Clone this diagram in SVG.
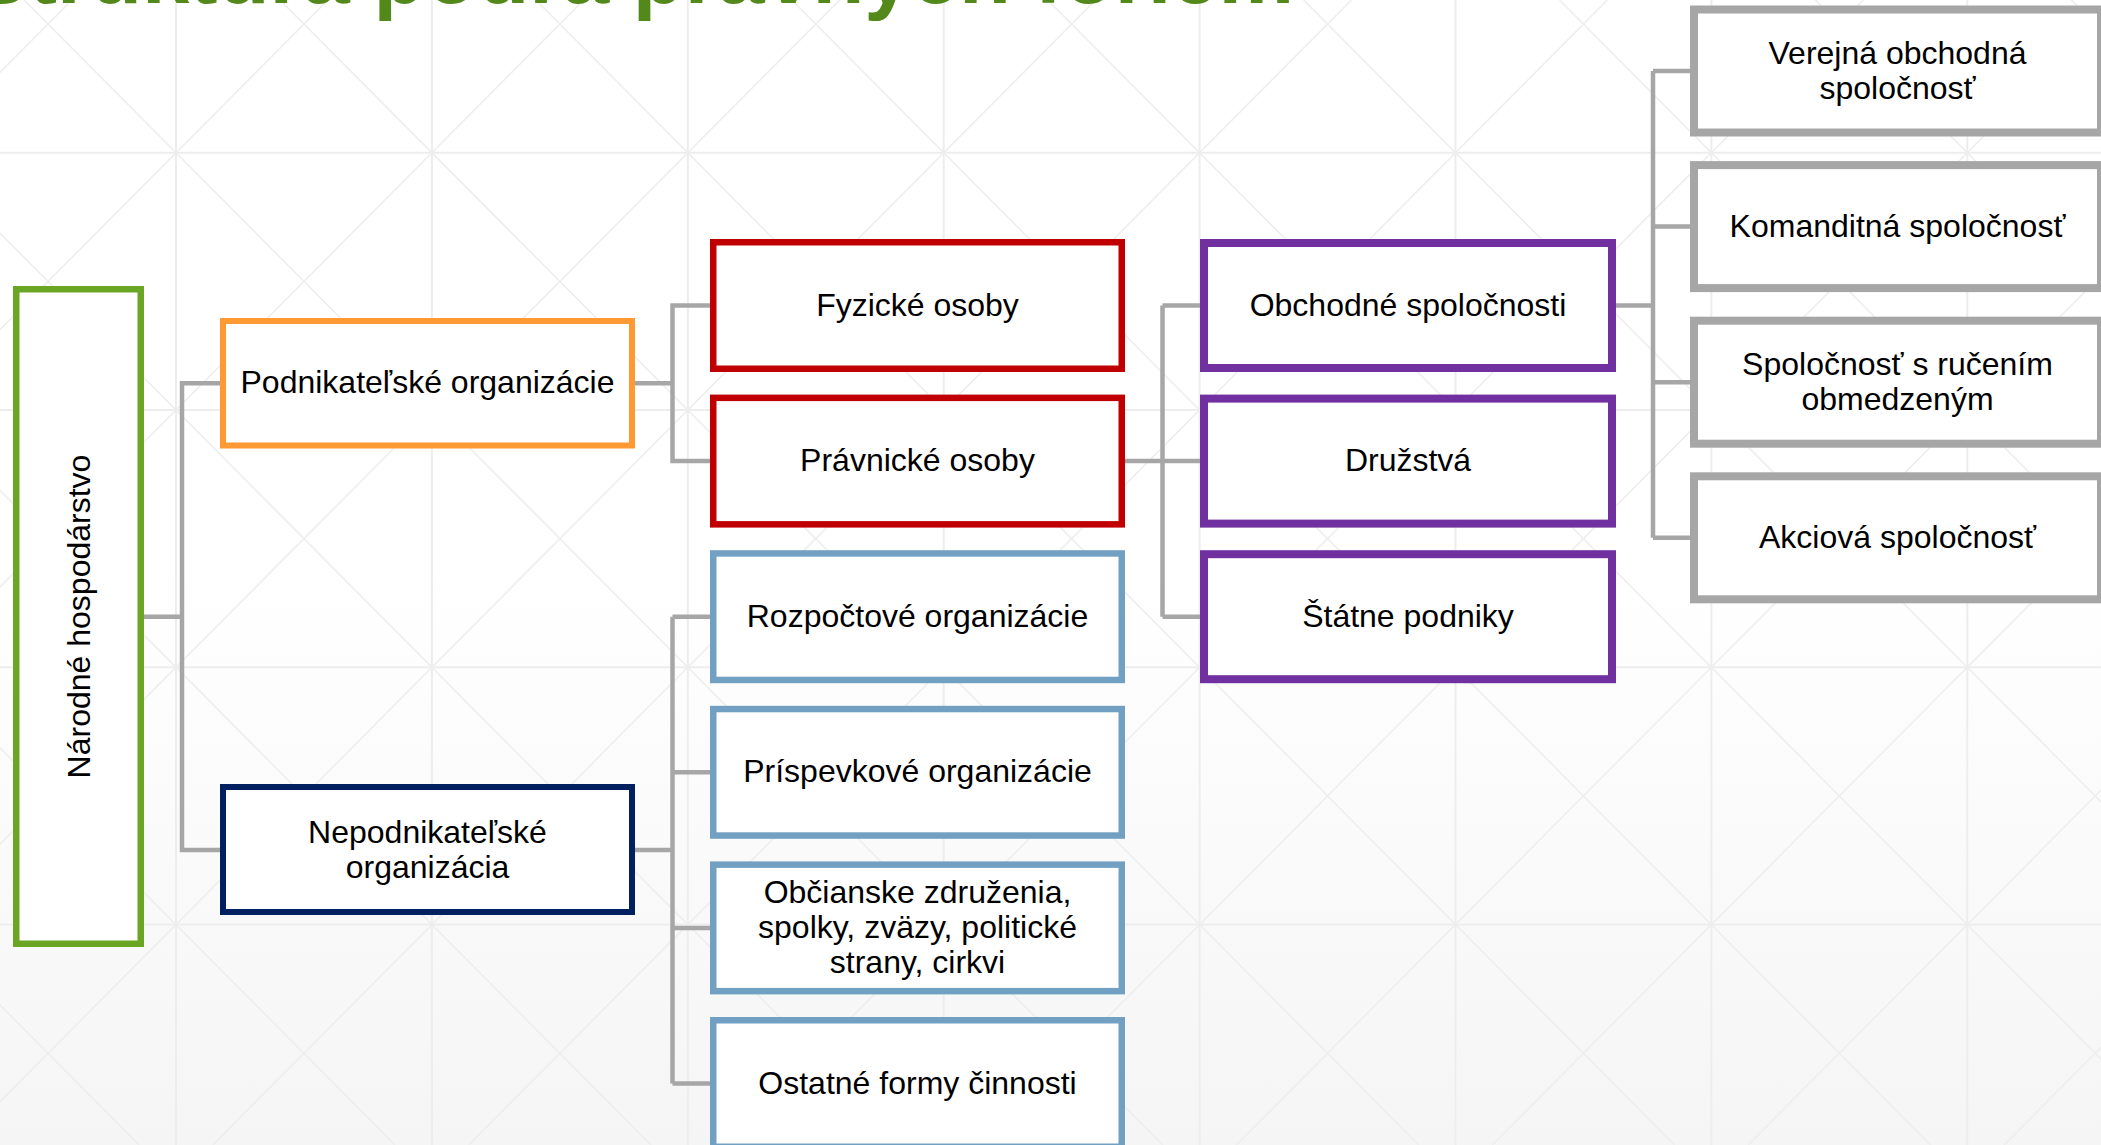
<svg xmlns="http://www.w3.org/2000/svg" width="2101" height="1145" viewBox="0 0 2101 1145">
<style>
  .lbl { font-family: "Liberation Sans", Arial, sans-serif; font-size: 32px; fill: #000000; text-anchor: middle; }
  .box { fill: #FFFFFF; }
  .g1 { stroke: #6AA523; stroke-width: 6.5; }
  .org { stroke: #FF9933; stroke-width: 6; }
  .navy { stroke: #002060; stroke-width: 6; }
  .red { stroke: #C00000; stroke-width: 6.5; }
  .blue { stroke: #72A0C3; stroke-width: 6.5; }
  .purp { stroke: #7030A0; stroke-width: 8; }
  .gray { stroke: #A6A6A6; stroke-width: 8; }
  .conn { fill: none; stroke: #A6A6A6; stroke-width: 4.5; stroke-linejoin: miter; }
  .gl { stroke: #EDEDED; stroke-width: 2; fill: none; }
  .gd { stroke: #EEEEEE; stroke-width: 1.6; fill: none; }
  .title { font-family: "Liberation Sans", Arial, sans-serif; font-weight: bold; font-size: 85px; fill: #53881A; }
</style>
<defs>
  <linearGradient id="bg" x1="0" y1="0" x2="0" y2="1">
    <stop offset="0" stop-color="#FFFFFF"/>
    <stop offset="0.5" stop-color="#FFFFFF"/>
    <stop offset="1" stop-color="#F5F5F5"/>
  </linearGradient>
</defs>
<g id="background">
  <rect x="0" y="0" width="2101" height="1145" fill="url(#bg)"/>
  <path class="gl" d="M176,0V1145 M431.9,0V1145 M687.8,0V1145 M943.7,0V1145 M1199.6,0V1145 M1455.5,0V1145 M1711.4,0V1145 M1967.3,0V1145 M0,152.7H2101 M0,410H2101 M0,667.3H2101 M0,924.6H2101"/>
  <path class="gd" d="M-999.5,0L139.3,1145 M-743.6,0L395.2,1145 M-487.7,0L651.1,1145 M-231.8,0L907,1145 M24.1,0L1162.9,1145 M280,0L1418.8,1145 M535.9,0L1674.7,1145 M791.8,0L1930.6,1145 M1047.7,0L2186.5,1145 M1303.6,0L2442.4,1145 M1559.5,0L2698.3,1145 M1815.4,0L2954.2,1145 M2071.3,0L3210.1,1145"/>
  <path class="gd" d="M72,0L-1066.8,1145 M327.9,0L-810.9,1145 M583.8,0L-555,1145 M839.7,0L-299.1,1145 M1095.6,0L-43.2,1145 M1351.5,0L212.7,1145 M1607.4,0L468.6,1145 M1863.3,0L724.5,1145 M2119.2,0L980.4,1145 M2375.1,0L1236.3,1145 M2631,0L1492.2,1145 M2886.9,0L1748.1,1145 M3142.8,0L2004,1145"/>
</g>
<text class="title" x="-28" y="3">Štruktúra podľa právnych foriem</text>
<g id="connectors">
  <path class="conn" d="M144,616.7H182V383.3H220 M182,616.7V850.1H220"/>
  <path class="conn" d="M635,383.3H672.5V305.5H710 M672.5,383.3V461.1H710"/>
  <path class="conn" d="M635,850.1H672.5 M672.5,616.7V1083.5 M672.5,616.7H710 M672.5,772.3H710 M672.5,927.9H710 M672.5,1083.5H710"/>
  <path class="conn" d="M1125,461.1H1200 M1162.5,305.5V616.7 M1162.5,305.5H1200 M1162.5,616.7H1200"/>
  <path class="conn" d="M1616,305.5H1653 M1653,71V537.8 M1653,71H1690 M1653,226.6H1690 M1653,382.2H1690 M1653,537.8H1690"/>
</g>
<g id="n-narodne">
  <rect class="box g1" x="16.25" y="289.25" width="124.5" height="654.5"/>
  <text class="lbl" transform="translate(90,616.5) rotate(-90)" x="0" y="0">Národné hospodárstvo</text>
</g>
<g id="n-podnikatelske">
  <rect class="box org" x="223" y="321" width="409" height="124.5"/>
  <text class="lbl" x="427.5" y="393.3">Podnikateľské organizácie</text>
</g>
<g id="n-nepodnikatelske">
  <rect class="box navy" x="223" y="787" width="409" height="125"/>
  <text class="lbl" x="427.5" y="842.6">Nepodnikateľské</text>
  <text class="lbl" x="427.5" y="877.6">organizácia</text>
</g>
<g id="n-fyzicke">
  <rect class="box red" x="713.25" y="242.25" width="408.5" height="126.5"/>
  <text class="lbl" x="917.5" y="315.5">Fyzické osoby</text>
</g>
<g id="n-pravnicke">
  <rect class="box red" x="713.25" y="397.85" width="408.5" height="126.5"/>
  <text class="lbl" x="917.5" y="471.1">Právnické osoby</text>
</g>
<g id="n-rozpoctove">
  <rect class="box blue" x="713.25" y="553.45" width="408.5" height="126.5"/>
  <text class="lbl" x="917.5" y="626.7">Rozpočtové organizácie</text>
</g>
<g id="n-prispevkove">
  <rect class="box blue" x="713.25" y="709.05" width="408.5" height="126.5"/>
  <text class="lbl" x="917.5" y="782.3">Príspevkové organizácie</text>
</g>
<g id="n-obcianske">
  <rect class="box blue" x="713.25" y="864.65" width="408.5" height="126.5"/>
  <text class="lbl" x="917.5" y="902.7">Občianske združenia,</text>
  <text class="lbl" x="917.5" y="937.9">spolky, zväzy, politické</text>
  <text class="lbl" x="917.5" y="973.1">strany, cirkvi</text>
</g>
<g id="n-ostatne">
  <rect class="box blue" x="713.25" y="1020.25" width="408.5" height="126.5"/>
  <text class="lbl" x="917.5" y="1093.5">Ostatné formy činnosti</text>
</g>
<g id="n-obchodne">
  <rect class="box purp" x="1204" y="243" width="408" height="125"/>
  <text class="lbl" x="1408" y="315.5">Obchodné spoločnosti</text>
</g>
<g id="n-druzstva">
  <rect class="box purp" x="1204" y="398.6" width="408" height="125"/>
  <text class="lbl" x="1408" y="471.1">Družstvá</text>
</g>
<g id="n-statne">
  <rect class="box purp" x="1204" y="554.2" width="408" height="125"/>
  <text class="lbl" x="1408" y="626.7">Štátne podniky</text>
</g>
<g id="n-verejna">
  <rect class="box gray" x="1694" y="9.5" width="407" height="123"/>
  <text class="lbl" x="1897.5" y="63.5">Verejná obchodná</text>
  <text class="lbl" x="1897.5" y="98.5">spoločnosť</text>
</g>
<g id="n-komanditna">
  <rect class="box gray" x="1694" y="165.1" width="407" height="123"/>
  <text class="lbl" x="1897.5" y="236.6">Komanditná spoločnosť</text>
</g>
<g id="n-sro">
  <rect class="box gray" x="1694" y="320.7" width="407" height="123"/>
  <text class="lbl" x="1897.5" y="374.7">Spoločnosť s ručením</text>
  <text class="lbl" x="1897.5" y="409.7">obmedzeným</text>
</g>
<g id="n-akciova">
  <rect class="box gray" x="1694" y="476.3" width="407" height="123"/>
  <text class="lbl" x="1897.5" y="547.8">Akciová spoločnosť</text>
</g>
</svg>
